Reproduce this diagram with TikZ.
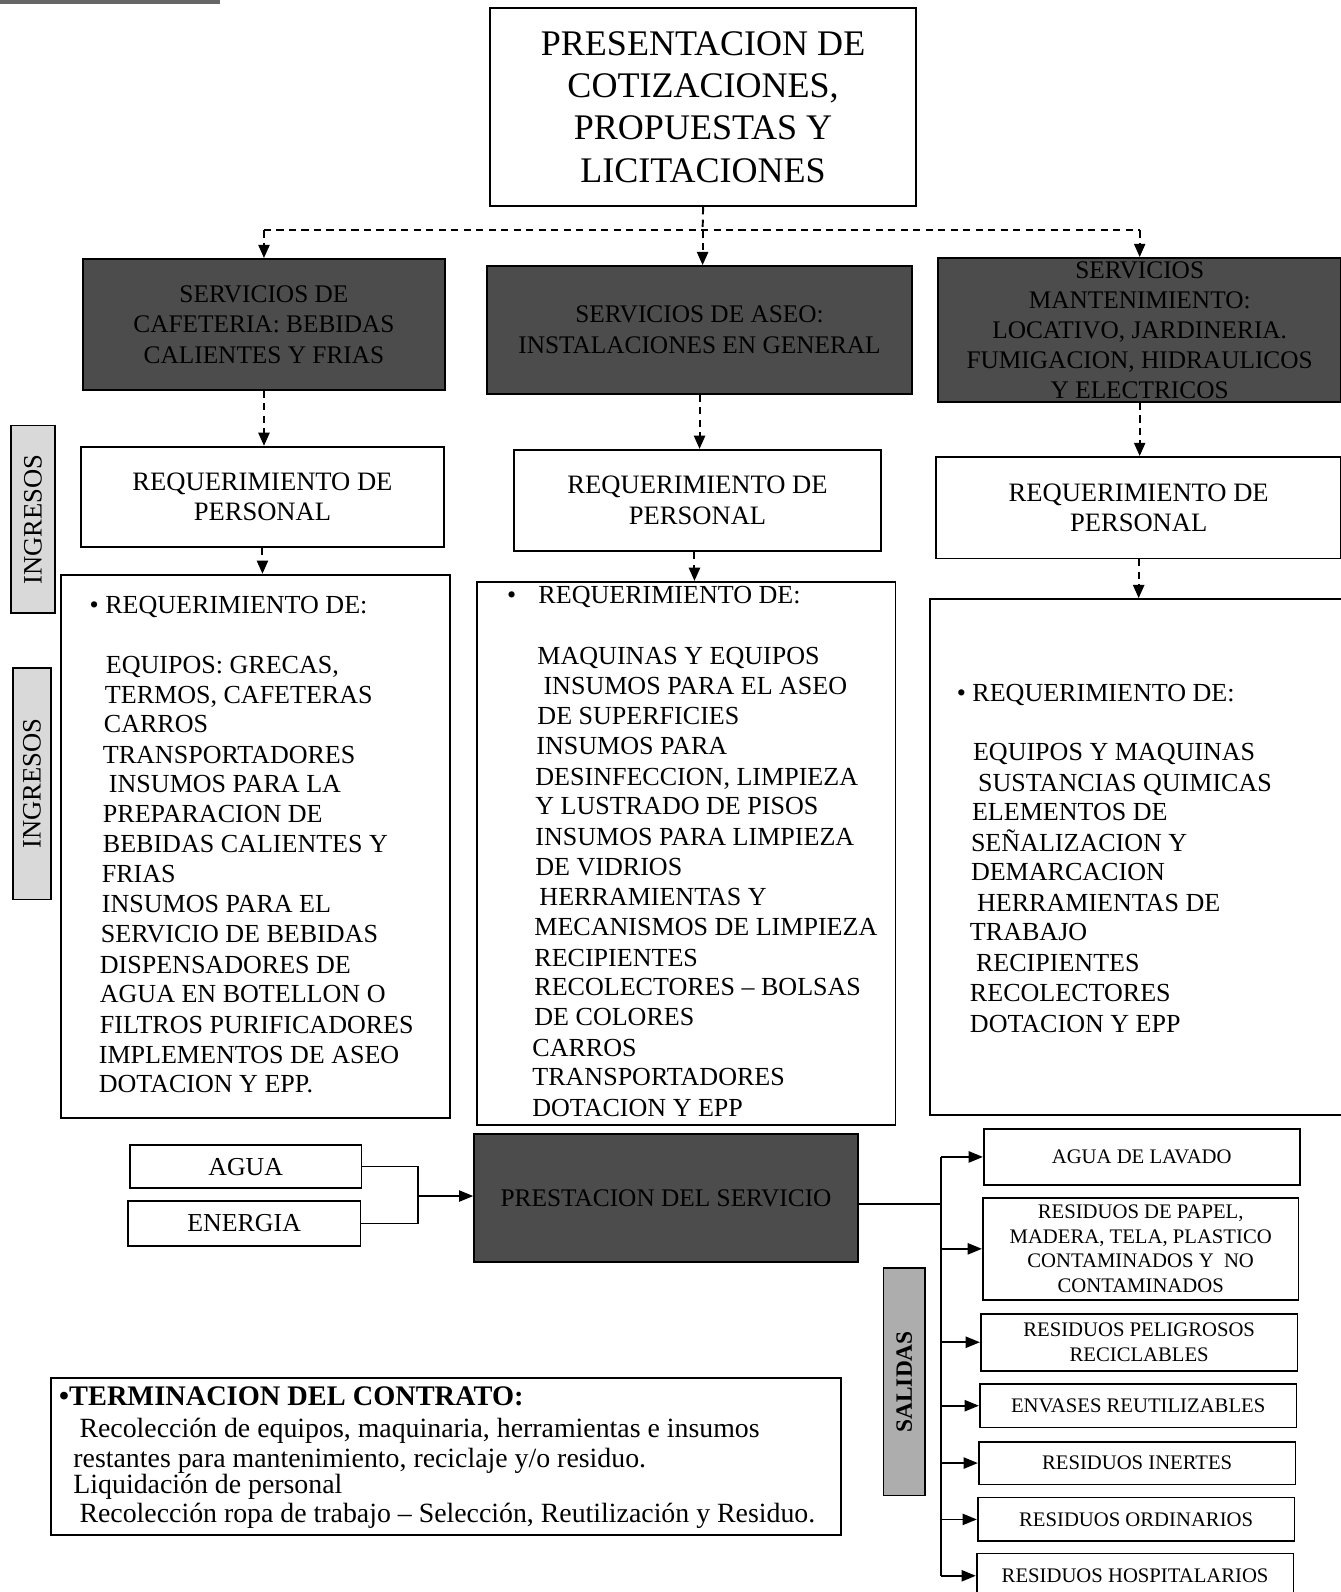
\documentclass[tikz,border=0pt]{standalone}
\usepackage{fontspec}
\setmainfont{Liberation Serif}
\usetikzlibrary{arrows.meta,calc}
\begin{document}
\begin{tikzpicture}[x=0.02cm,y=-0.02cm,
  sz/.style 2 args={minimum width=#1*0.02cm,minimum height=#2*0.02cm},
  plain/.style={draw=black,line width=1pt,fill=white,inner sep=0pt,align=center},
  darkbox/.style={draw=black,line width=1pt,fill=black!70,inner sep=0pt,align=center,text=black,
    font=\fontsize{14.2}{17.1}\selectfont},
  reqbox/.style={plain,font=\fontsize{14.9}{17.1}\selectfont},
  outbox/.style={plain,font=\fontsize{11.6}{13.7}\selectfont},
  sidelbl/.style={draw=black,line width=0.9pt,inner sep=0pt,rotate=90},
  dsh/.style={line width=1.1pt,dash pattern=on 4pt off 3pt},
  tipd/.style={-{Triangle[length=0.26cm,width=0.22cm]}},
  tips/.style={-{Triangle[length=0.28cm,width=0.22cm]}},
  ln/.style={anchor=base west,inner sep=0pt,font=\fontsize{14.6}{16.8}\selectfont},
  tln/.style={anchor=base west,inner sep=0pt,font=\fontsize{15.6}{16.8}\selectfont},
]
\useasboundingbox (0,0) rectangle (1320,1568);
\fill[white] (0,0) rectangle (1320,1568);
% remnant rule at the top left
\draw[line width=2.4pt,black!60] (0,2) -- (217,2);

% title
\node[plain,sz={419}{195},line width=1.2pt,font=\fontsize{20.2}{23.6}\selectfont] (title) at (692.5,105.5)
  {PRESENTACION DE\\COTIZACIONES,\\PROPUESTAS Y\\LICITACIONES};

% service boxes
\node[darkbox,sz={356}{129}] (dk1) at (260,319.5) {SERVICIOS DE\\CAFETERIA: BEBIDAS\\CALIENTES Y FRIAS};
\node[darkbox,sz={418}{126}] (dk2) at (689,325) {SERVICIOS DE ASEO:\\INSTALACIONES EN GENERAL};
\node[darkbox,sz={397}{142},font=\fontsize{14.2}{16.8}\selectfont] (dk3) at (1122.5,325)
  {SERVICIOS\\MANTENIMIENTO:\\LOCATIVO, JARDINERIA.\\FUMIGACION, HIDRAULICOS\\Y ELECTRICOS};

% personal requirement boxes
\node[reqbox,sz={357}{99}] (rq1) at (258.5,489.5) {REQUERIMIENTO DE\\PERSONAL};
\node[reqbox,sz={362}{100}] (rq2) at (687,493) {REQUERIMIENTO DE\\PERSONAL};
\node[reqbox,sz={399}{100}] (rq3) at (1121.5,500) {REQUERIMIENTO DE\\PERSONAL};

% list boxes
\node[plain,sz={383}{535}] (ls1) at (251.5,833.5) {};
\node[plain,sz={412}{535}] (ls2) at (676,840.5) {};
\node[plain,sz={406}{508}] (ls3) at (1119,844) {};

% side labels
\node[sidelbl,fill=black!15,sz={185}{43},font=\fontsize{14.9}{17}\selectfont] (ing1) at (32.5,511.5) {INGRESOS};
\node[sidelbl,fill=black!15,sz={228}{37},font=\fontsize{14.9}{17}\selectfont] (ing2) at (31.5,772) {INGRESOS};
\node[sidelbl,fill=black!32,sz={224}{41},font=\bfseries\fontsize{13.1}{15}\selectfont] (sal) at (890.5,1361) {SALIDAS};

% connectors at the top
\coordinate (j) at (692,227);
\draw[dsh] (title.south) -- (j);
\draw[dsh] (dk1.north |- j) -- (dk3.north |- j);
\draw[dsh,tipd] (dk1.north |- j) -- (dk1.north);
\draw[dsh,tipd] (j) -- (j |- dk2.north);
\draw[dsh,tipd] (dk3.north |- j) -- (dk3.north);
\draw[dsh,tipd] (dk1.south) -- (dk1.south |- rq1.north);
\draw[dsh,tipd] (dk2.south) -- (dk2.south |- rq2.north);
\draw[dsh,tipd] (dk3.south) -- (dk3.south |- rq3.north);
\draw[dsh,tipd] (rq1.south) -- (rq1.south |- ls1.north);
\draw[dsh,tipd] ([xshift=-0.06cm]rq2.south) -- ([xshift=-0.06cm]rq2.south |- ls2.north);
\draw[dsh,tipd] (rq3.south) -- (rq3.south |- ls3.north);

% left list
\node[ln] (la0) at (88,604.5) {• REQUERIMIENTO DE:};
\foreach \xx/\yy/\txt [count=\i] in {
104/655/{EQUIPOS: GRECAS,},
103/684/{TERMOS, CAFETERAS},
102/713/{CARROS},
101/743/{TRANSPORTADORES},
107/772/{INSUMOS PARA LA},
101/802/{PREPARACION DE},
101/831/{BEBIDAS CALIENTES Y},
100/861/{FRIAS},
100/890/{INSUMOS PARA EL},
99/920/{SERVICIO DE BEBIDAS},
98/950/{DISPENSADORES DE},
98/979/{AGUA EN BOTELLON O},
98/1009/{FILTROS PURIFICADORES},
97/1039/{IMPLEMENTOS DE ASEO},
97/1068/{DOTACION Y EPP.}}
  \node[ln] (la\i) at (\xx,\yy+8.5) {\txt};

% middle list
\node[ln] (lb0) at (499,594.5) {•};
\node[ln] (lb00) at (530,594.5) {REQUERIMIENTO DE:};
\foreach \xx/\yy/\txt [count=\i] in {
529/646/{MAQUINAS Y EQUIPOS},
535/676/{INSUMOS PARA EL ASEO},
529/705/{DE SUPERFICIES},
528/735/{INSUMOS PARA},
527/765/{DESINFECCION, LIMPIEZA},
527/794/{Y LUSTRADO DE PISOS},
527/824/{INSUMOS PARA LIMPIEZA},
527/854/{DE VIDRIOS},
531/883/{HERRAMIENTAS Y},
526/913/{MECANISMOS DE LIMPIEZA},
526/943/{RECIPIENTES},
526/972/{RECOLECTORES – BOLSAS},
526/1002/{DE COLORES},
524/1032/{CARROS},
524/1061/{TRANSPORTADORES},
524/1091/{DOTACION Y EPP}}
  \node[ln] (lb\i) at (\xx,\yy+8.5) {\txt};

% right list
\node[ln] (lc0) at (942,690.5) {• REQUERIMIENTO DE:};
\foreach \xx/\yy/\txt [count=\i] in {
958/741/{EQUIPOS Y MAQUINAS},
963/771/{SUSTANCIAS QUIMICAS},
957/800/{ELEMENTOS DE},
956/830/{SEÑALIZACION Y},
956/859/{DEMARCACION},
962/889/{HERRAMIENTAS DE},
955/918/{TRABAJO},
961/948/{RECIPIENTES},
955/978/{RECOLECTORES},
955/1008/{DOTACION Y EPP}}
  \node[ln] (lc\i) at (\xx,\yy+8.5) {\txt};

% inputs and service
\node[reqbox,sz={228}{42},font=\fontsize{14.5}{17}\selectfont] (agua) at (242,1149) {AGUA};
\node[reqbox,sz={229}{44},font=\fontsize{14.5}{17}\selectfont] (energia) at (240.5,1205) {ENERGIA};
\node[darkbox,sz={378}{126}] (prest) at (656,1180) {PRESTACION DEL SERVICIO};
\coordinate (br) at (412,1178);
\draw[line width=1pt] (agua.east) -| (br) |- (energia.east);
\draw[line width=1pt,tips] (br) -- (prest.west |- br);

% outputs
\node[outbox,sz={311}{55}] (o1) at (1124.5,1139.5) {AGUA DE LAVADO};
\node[outbox,sz={311}{100}] (o2) at (1123.5,1230) {RESIDUOS DE PAPEL,\\MADERA, TELA, PLASTICO\\CONTAMINADOS Y\hspace{0.5em}NO\\CONTAMINADOS};
\node[outbox,sz={312}{56}] (o3) at (1122,1322) {RESIDUOS PELIGROSOS\\RECICLABLES};
\node[outbox,sz={312}{43}] (o4) at (1121,1384.5) {ENVASES REUTILIZABLES};
\node[outbox,sz={312}{42}] (o5) at (1120,1441) {RESIDUOS INERTES};
\node[outbox,sz={312}{43}] (o6) at (1119,1496.5) {RESIDUOS ORDINARIOS};
\node[outbox,sz={312}{44}] (o7) at (1118,1552) {RESIDUOS HOSPITALARIOS};
\coordinate (tx) at (927,1186);
\draw[line width=1pt] (prest.east |- tx) -- (tx);
\draw[line width=1pt] (o1.west -| tx) -- (o7.west -| tx);
\foreach \o in {o1,o2,o3,o4,o5,o6,o7}
  \draw[line width=1pt,tips] (\o.west -| tx) -- (\o.west);

% contract termination
\node[plain,sz={778}{155}] (term) at (439,1434.5) {};
\node[tln,font=\bfseries\fontsize{15.9}{16.8}\selectfont] (t0) at (58,1384) {•TERMINACION DEL CONTRATO:};
\node[tln] (t1) at (78,1416) {Recolección de equipos, maquinaria, herramientas e insumos};
\node[tln] (t2) at (72,1445) {restantes para mantenimiento, reciclaje y/o residuo.};
\node[tln] (t3) at (72,1471) {Liquidación de personal};
\node[tln] (t4) at (78,1500) {Recolección ropa de trabajo – Selección, Reutilización y Residuo.};
\end{tikzpicture}
\end{document}
